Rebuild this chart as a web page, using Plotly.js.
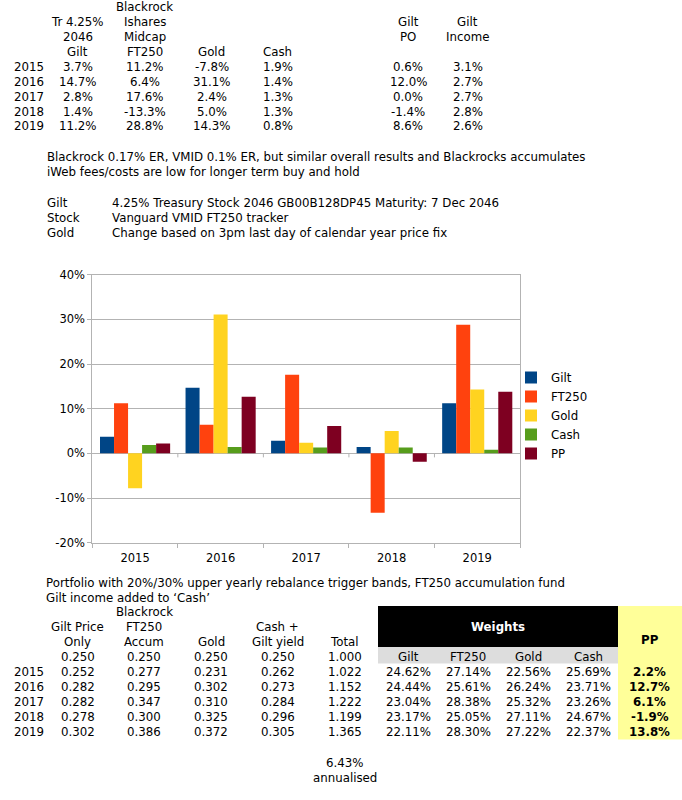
<!DOCTYPE html>
<html><head><meta charset="utf-8">
<script src="https://cdn.plot.ly/plotly-3.0.1.min.js"></script>
<style>html,body{margin:0;padding:0;background:#fff}</style>
</head><body><div id="chart" style="width:682px;height:800px"></div>
<script>
// ---- Data ----
const years = ['2015','2016','2017','2018','2019'];
const giltReturn  = [3.7, 14.7, 2.8, 1.4, 11.2];
const ft250Return = [11.2, 6.4, 17.6, -13.3, 28.8];
const goldReturn  = [-7.8, 31.1, 2.4, 5.0, 14.3];
const cashReturn  = [1.9, 1.4, 1.3, 1.3, 0.8];
const giltPO      = [0.6, 12.0, 0.0, -1.4, 8.6];
const giltIncome  = [3.1, 2.7, 2.7, 2.8, 2.6];
const ppReturn    = [2.2, 12.7, 6.1, -1.9, 13.8];

const seriesNames  = ['Gilt','FT250','Gold','Cash','PP'];
const seriesColors = ['#004586','#ff420e','#ffd320','#579d1c','#7e0021'];
const seriesData   = [giltReturn, ft250Return, goldReturn, cashReturn, ppReturn];

const yTickVals = [-20,-10,0,10,20,30,40];
const yTickText = ['-20%','-10%','0%','10%','20%','30%','40%'];

// bottom portfolio table
const valGilt  = [0.250,0.252,0.282,0.282,0.278,0.302];
const valFT250 = [0.250,0.277,0.295,0.347,0.300,0.386];
const valGold  = [0.250,0.231,0.302,0.310,0.325,0.372];
const valCash  = [0.250,0.262,0.273,0.284,0.296,0.305];
const valTotal = [1.000,1.022,1.152,1.222,1.199,1.365];
const annualised = 6.43;

const wGilt  = [24.62,24.44,23.04,23.17,22.11];
const wFT250 = [27.14,25.61,28.38,25.05,28.30];
const wGold  = [22.56,26.24,25.32,27.11,27.22];
const wCash  = [25.69,23.71,23.26,24.67,22.37];

// ---- Layout helpers ----
const W = 682, H = 800;
const FONT = 'DejaVu Sans, sans-serif';
const FS = 11.8;
const anns = [];
function txt(t, px, py, o) {
  o = o || {};
  anns.push({text: t, xref: 'paper', yref: 'paper', x: px / W, y: 1 - py / H,
    xanchor: o.anchor || 'center', yanchor: 'middle', showarrow: false,
    borderpad: 0, borderwidth: 0,
    font: {family: FONT, size: o.size || FS, color: o.color || '#000'}});
}
const pct1 = v => v.toFixed(1) + '%';
const pct2 = v => v.toFixed(2) + '%';
const f3 = v => v.toFixed(3);

// ---- Top table ----
const tRow = i => 7.3 + 14.9 * i;
const tc = {yr: 28.5, gilt: 77.5, ft: 144.5, gold: 211.5, cash: 277.5, po: 408, inc: 468};
txt('Tr 4.25%', tc.gilt, tRow(1)); txt('2046', tc.gilt, tRow(2)); txt('Gilt', tc.gilt, tRow(3));
txt('Blackrock', tc.ft, tRow(0)); txt('Ishares', tc.ft, tRow(1)); txt('Midcap', tc.ft, tRow(2)); txt('FT250', tc.ft, tRow(3));
txt('Gold', tc.gold, tRow(3)); txt('Cash', tc.cash, tRow(3));
txt('Gilt', tc.po, tRow(1)); txt('PO', tc.po, tRow(2));
txt('Gilt', tc.inc, tRow(1)); txt('Income', tc.inc, tRow(2));
years.forEach((y, i) => {
  const r = tRow(4 + i);
  txt(y, tc.yr, r);
  txt(pct1(giltReturn[i]), tc.gilt, r);
  txt(pct1(ft250Return[i]), tc.ft, r);
  txt(pct1(goldReturn[i]), tc.gold, r);
  txt(pct1(cashReturn[i]), tc.cash, r);
  txt(pct1(giltPO[i]), tc.po, r);
  txt(pct1(giltIncome[i]), tc.inc, r);
});

// ---- Notes ----
txt('Blackrock 0.17% ER, VMID 0.1% ER, but similar overall results and Blackrocks accumulates', 46.5, 157.3, {anchor: 'left'});
txt('iWeb fees/costs are low for longer term buy and hold', 46.5, 171.9, {anchor: 'left'});
txt('Gilt', 46.5, 203.2, {anchor: 'left'});
txt('4.25% Treasury Stock 2046 GB00B128DP45 Maturity: 7 Dec 2046', 111.7, 203.2, {anchor: 'left'});
txt('Stock', 46.5, 218.1, {anchor: 'left'});
txt('Vanguard VMID FT250 tracker', 111.7, 218.1, {anchor: 'left'});
txt('Gold', 46.5, 233.2, {anchor: 'left'});
txt('Change based on 3pm last day of calendar year price fix', 111.7, 233.2, {anchor: 'left'});

// ---- Bottom table ----
txt('Portfolio with 20%/30% upper yearly rebalance trigger bands, FT250 accumulation fund', 45.7, 583.3, {anchor: 'left'});
txt('Gilt income added to \u2018Cash\u2019', 45.7, 598.3, {anchor: 'left'});
const bRow = i => 612.3 + 14.9 * i;
const bc = {yr: 28.7, gilt: 77.7, ft: 144.3, gold: 211.2, cash: 277.7, tot: 344.5};
txt('Blackrock', bc.ft, bRow(0));
txt('Gilt Price', bc.gilt, bRow(1)); txt('FT250', bc.ft, bRow(1)); txt('Cash +', bc.cash, bRow(1));
txt('Only', bc.gilt, bRow(2)); txt('Accum', bc.ft, bRow(2)); txt('Gold', bc.gold, bRow(2));
txt('Gilt yield', bc.cash, bRow(2)); txt('Total', bc.tot, bRow(2));
valTotal.forEach((v, i) => {
  const r = bRow(3 + i);
  if (i > 0) txt(years[i - 1], bc.yr, r);
  txt(f3(valGilt[i]), bc.gilt, r);
  txt(f3(valFT250[i]), bc.ft, r);
  txt(f3(valGold[i]), bc.gold, r);
  txt(f3(valCash[i]), bc.cash, r);
  txt(f3(valTotal[i]), bc.tot, r);
});
txt(pct2(annualised), bc.tot, 762.7);
txt('annualised', bc.tot, 777.7);

// ---- Weights table ----
const wc = {gilt: 408.3, ft: 468.3, gold: 528.3, cash: 588.5, pp: 649.5};
txt('<b>Weights</b>', 498.3, 626.7, {color: '#fff'});
txt('<b>PP</b>', wc.pp, 640);
txt('Gilt', wc.gilt, bRow(3)); txt('FT250', wc.ft, bRow(3)); txt('Gold', wc.gold, bRow(3)); txt('Cash', wc.cash, bRow(3));
wGilt.forEach((v, i) => {
  const r = bRow(4 + i);
  txt(pct2(wGilt[i]), wc.gilt, r);
  txt(pct2(wFT250[i]), wc.ft, r);
  txt(pct2(wGold[i]), wc.gold, r);
  txt(pct2(wCash[i]), wc.cash, r);
  txt('<b>' + pct1(ppReturn[i]) + '</b>', wc.pp, r);
});

function prect(x0, y0, x1, y1, color) {
  return {type: 'rect', xref: 'paper', yref: 'paper', x0: x0 / W, x1: x1 / W,
    y0: 1 - y0 / H, y1: 1 - y1 / H, fillcolor: color, line: {width: 0}, layer: 'below'};
}
const shapes = [
  prect(618, 606, 682, 739.5, '#ffff99'),
  prect(378, 606, 618, 647, '#000000'),
  prect(378, 647, 618, 663.5, '#dddddd')
];
// small tick marks under the zero line at category boundaries
[0.5, 1.5, 2.5, 3.5].forEach(b => shapes.push({type: 'line', xref: 'x', yref: 'y',
  x0: b, x1: b, ysizemode: 'pixel', yanchor: 0, y0: 0, y1: -4,
  line: {color: '#b3b3b3', width: 1}}));

// ---- Chart ----
const traces = seriesNames.map((n, i) => ({
  type: 'bar', name: n, x: years, y: seriesData[i],
  marker: {color: seriesColors[i], line: {width: 0}},
  hoverinfo: 'skip'
}));

const layout = {
  width: W, height: H,
  margin: {l: 0, r: 0, t: 0, b: 0, pad: 0},
  paper_bgcolor: '#fff', plot_bgcolor: '#fff',
  font: {family: FONT, size: FS, color: '#000'},
  barmode: 'group', bargap: 0.18, bargroupgap: 0,
  xaxis: {
    domain: [92.3 / W, 520 / W], type: 'category',
    tickson: 'boundaries', ticks: 'outside', ticklen: 4, tickcolor: '#b3b3b3',
    ticklabelstandoff: 4,
    showline: true, linecolor: '#b3b3b3', linewidth: 1, mirror: true,
    showgrid: false, zeroline: false,
    tickfont: {family: FONT, size: 11.5, color: '#000'}, fixedrange: true
  },
  yaxis: {
    domain: [1 - 542.7 / H, 1 - 274.7 / H], range: [-20, 40],
    tickvals: yTickVals, ticktext: yTickText,
    ticks: 'outside', ticklen: 4, tickcolor: '#b3b3b3',
    showline: true, linecolor: '#b3b3b3', linewidth: 1, mirror: true,
    showgrid: true, gridcolor: '#b3b3b3', gridwidth: 1,
    zeroline: true, zerolinecolor: '#b3b3b3', zerolinewidth: 1,
    tickfont: {family: FONT, size: 11.5, color: '#000'}, fixedrange: true
  },
  showlegend: true,
  legend: {x: 511 / W, xanchor: 'left', y: 1 - 415.5 / H, yanchor: 'middle',
    font: {family: FONT, size: FS, color: '#000'}, bgcolor: 'rgba(0,0,0,0)',
    borderwidth: 0, tracegroupgap: 0},
  annotations: anns,
  shapes: shapes
};

Plotly.newPlot('chart', traces, layout, {displayModeBar: false, staticPlot: true});
</script>
</body></html>
